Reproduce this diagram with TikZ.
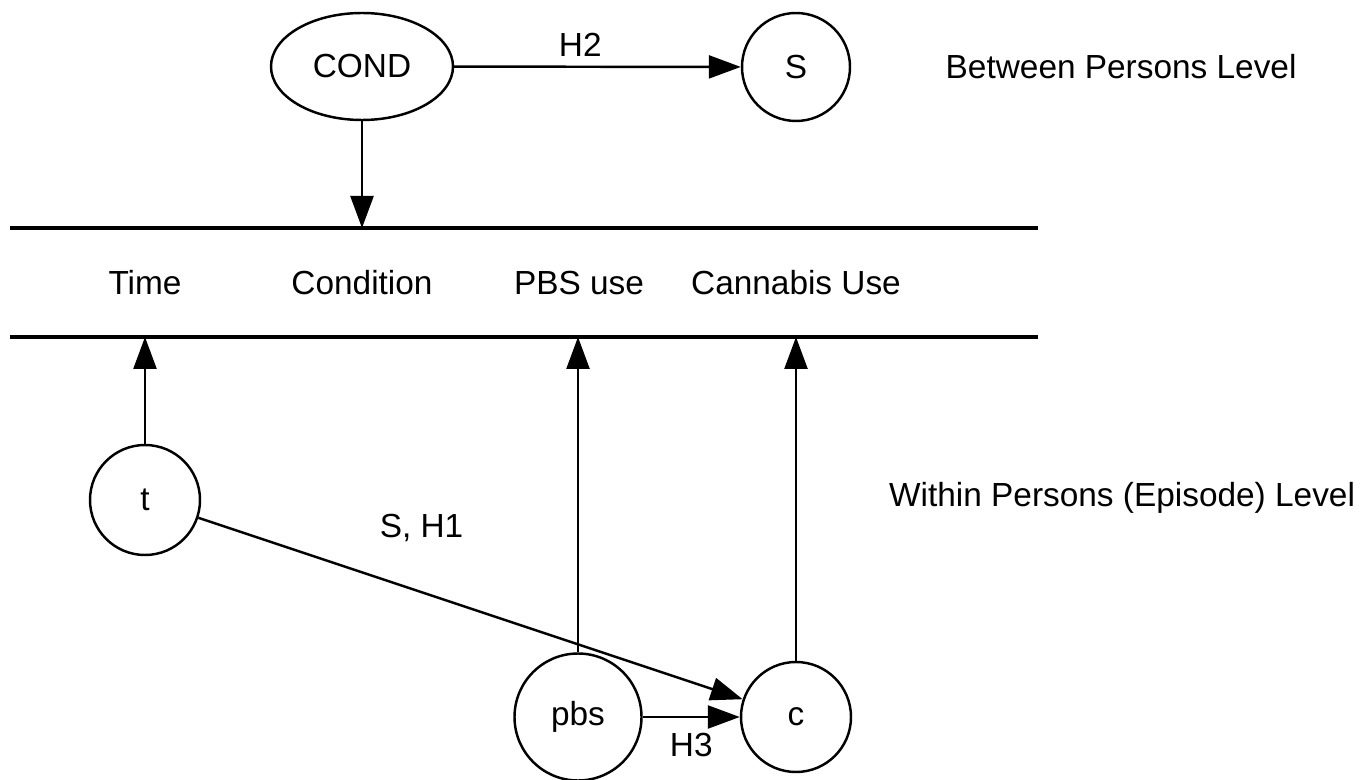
\documentclass[tikz,border=0pt]{standalone}
\usepackage{fontspec}
\setmainfont{Liberation Sans}
\usetikzlibrary{arrows.meta,shapes,positioning}
\tikzstyle{link} = [line width=1.4pt,-{Triangle[length=0.64cm,width=0.46cm]}]
\tikzstyle{var} = [draw, circle, line width=1.4pt, inner sep=0pt, minimum size=2.2cm]
\tikzstyle{band} = [line width=1.8pt]

\begin{document}
\begin{tikzpicture}[font=\fontsize{19}{23}\selectfont]
\useasboundingbox (0,0) rectangle (27.42,15.58);

% Between persons level
\node[draw, ellipse, line width=1.4pt, minimum width=3.64cm, minimum height=2.14cm] (cond) at (7.24,14.25) {COND};
\node[var, minimum size=2.16cm] (s) at (15.92,14.24) {S};
\node[anchor=west] (between) at (18.79,14.24) {Between Persons Level};
\draw[link] (cond) -- node[pos=0.44, above=2pt] {H2} (s);

% Outcome band
\coordinate (topl) at (0.2,11.02);
\coordinate (topr) at (20.76,11.02);
\coordinate (botl) at (0.2,8.84);
\coordinate (botr) at (20.76,8.84);
\draw[band] (topl) -- (topr);
\draw[band] (botl) -- (botr);
\node (time) at (2.9,9.92) {Time};
\node (condition) at (7.24,9.92) {Condition};
\node (pbsuse) at (11.58,9.92) {PBS use};
\node (cannabis) at (15.92,9.92) {Cannabis Use};
\draw[link] (cond) -- (cond |- topl);

% Within persons level
\node[var] (t) at (2.9,5.58) {t};
\node[var, minimum size=2.54cm] (pbs) at (11.56,1.24) {pbs};
\node[var] (c) at (15.92,1.24) {c};
\node[anchor=west] (within) at (17.66,5.62) {Within Persons (Episode) Level};

\draw[link] (t) -- (t |- botl);
\draw[link] (pbs) -- (pbs |- botl);
\draw[link] (c) -- (c |- botl);
\draw[link] (t) -- node[pos=0.41, above=0.86cm] {S, H1} (c);
\draw[link] (pbs) -- node[below=5pt] {H3} (c);
\end{tikzpicture}
\end{document}
